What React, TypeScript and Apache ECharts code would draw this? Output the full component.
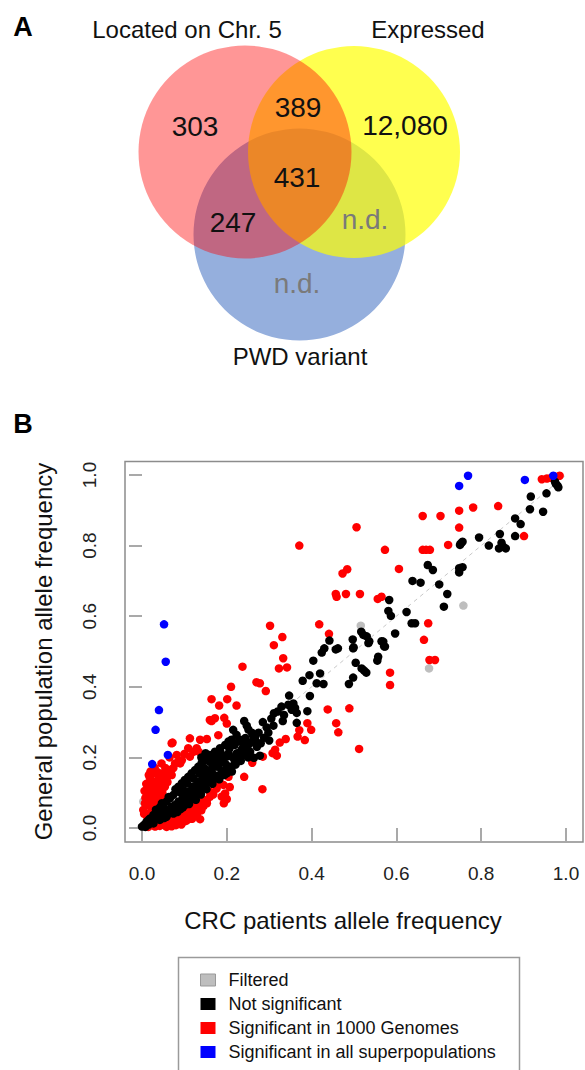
import React, { useEffect, useRef } from "react";
import * as echarts from "echarts";

// ---------- Panel A: Venn diagram ----------
const vennSetNames = ["Located on Chr. 5", "Expressed", "PWD variant"];
const vennRegionLabels = ["303", "389", "12,080", "431", "247", "n.d.", "n.d."];

// ---------- Panel B: scatter ----------
const legendNames = [
  "Filtered",
  "Not significant",
  "Significant in 1000 Genomes",
  "Significant in all superpopulations",
];
const axisTicks = [0, 0.2, 0.4, 0.6, 0.8, 1.0];
const diagonal = [[-0.04, -0.04], [1.04, 1.04]];

const filteredPoints = [
  [0.758, 0.63], [0.516, 0.573], [0.677, 0.452], [0.003, 0.075],
];

const sigAllPoints = [
  [0.769, 0.998], [0.748, 0.969], [0.903, 0.986], [0.97, 0.998],
  [0.052, 0.577], [0.056, 0.471], [0.04, 0.334], [0.032, 0.278],
  [0.061, 0.207], [0.024, 0.181],
];

const sig1000GPoints = [
  // upper region
  [0.943, 0.988], [0.955, 0.99], [0.965, 0.992], [0.975, 0.995], [0.985, 0.998],
  [0.84, 0.912], [0.781, 0.908], [0.748, 0.899], [0.704, 0.884], [0.662, 0.884],
  [0.748, 0.851], [0.506, 0.852], [0.371, 0.8], [0.901, 0.827], [0.722, 0.802],
  [0.662, 0.788], [0.67, 0.788], [0.679, 0.788], [0.573, 0.788], [0.606, 0.734],
  [0.473, 0.721], [0.484, 0.733], [0.457, 0.663], [0.459, 0.655], [0.481, 0.663],
  [0.514, 0.663], [0.556, 0.649], [0.565, 0.655], [0.675, 0.58], [0.665, 0.533],
  [0.302, 0.573], [0.331, 0.541], [0.311, 0.518], [0.418, 0.577], [0.441, 0.55],
  // middle region
  [0.333, 0.481], [0.323, 0.452], [0.342, 0.455], [0.237, 0.457], [0.27, 0.413],
  [0.278, 0.41], [0.292, 0.388], [0.21, 0.4], [0.164, 0.365], [0.201, 0.365],
  [0.182, 0.347], [0.223, 0.347], [0.172, 0.311], [0.164, 0.303], [0.16, 0.306],
  [0.194, 0.312], [0.2, 0.296], [0.072, 0.242], [0.113, 0.254], [0.153, 0.252],
  [0.137, 0.25], [0.133, 0.217], [0.585, 0.44], [0.585, 0.405], [0.678, 0.476],
  [0.691, 0.476], [0.285, 0.202], [0.308, 0.212], [0.318, 0.205], [0.314, 0.222],
  [0.325, 0.242], [0.339, 0.252], [0.367, 0.259], [0.371, 0.277], [0.384, 0.249],
  [0.39, 0.297], [0.399, 0.278], [0.438, 0.336], [0.458, 0.297], [0.463, 0.271],
  [0.489, 0.339], [0.512, 0.224], [0.26, 0.185], [0.241, 0.145], [0.284, 0.11],
  [0.204, 0.145], [0.207, 0.116], [0.196, 0.098], [0.193, 0.07], [0.16, 0.103],
  [0.188, 0.089], [0.2, 0.082], [0.192, 0.122], [0.145, 0.079], [0.153, 0.07],
  [0.137, 0.065], [0.137, 0.025], [0.176, 0.112], [0.183, 0.13],
  // upper-left cluster above diagonal
  [0.07, 0.24], [0.109, 0.226], [0.121, 0.216], [0.113, 0.202], [0.129, 0.226],
  [0.082, 0.207], [0.094, 0.192], [0.086, 0.188], [0.046, 0.183], [0.066, 0.164],
  [0.18, 0.263], [0.078, 0.183], [0.09, 0.183], [0.065, 0.2], [0.1, 0.21],
  [0.027, 0.155], [0.019, 0.141], [0.031, 0.131], [0.015, 0.122], [0.035, 0.117],
  [0.023, 0.108], [0.011, 0.098], [0.027, 0.094], [0.038, 0.103], [0.046, 0.131],
  [0.054, 0.117], [0.042, 0.089], [0.019, 0.079], [0.007, 0.07], [0.003, 0.051],
  [0.015, 0.065], [0.031, 0.075], [0.058, 0.141], [0.05, 0.155], [0.02, 0.16],
  [0.03, 0.17], [0.012, 0.11], [0.04, 0.145], [0.008, 0.085], [0.025, 0.055],
  [0.005, 0.04], [0.035, 0.06], [0.022, 0.135], [0.016, 0.15], [0.03, 0.088],
  [0.048, 0.1], [0.06, 0.13], [0.07, 0.15], [0.013, 0.03], [0.02, 0.045],
  [0.01, 0.125], [0.037, 0.158], [0.055, 0.17], [0.062, 0.152], [0.074, 0.17],
  [0.044, 0.115], [0.006, 0.105], [0.028, 0.115], [0.039, 0.078], [0.052, 0.085],
  // lower band below diagonal
  [0.015, 0.003], [0.031, 0.004], [0.042, 0.006], [0.054, 0.008], [0.066, 0.011],
  [0.078, 0.018], [0.09, 0.023], [0.101, 0.03], [0.109, 0.037], [0.117, 0.044],
  [0.129, 0.051], [0.145, 0.062], [0.153, 0.079], [0.058, 0.003], [0.025, 0.01],
  [0.04, 0.014], [0.05, 0.018], [0.062, 0.022], [0.072, 0.028], [0.085, 0.032],
  [0.095, 0.04], [0.105, 0.048], [0.112, 0.055], [0.122, 0.06], [0.135, 0.072],
  [0.07, 0.005], [0.085, 0.012], [0.098, 0.018], [0.11, 0.025], [0.12, 0.034],
  [0.13, 0.04], [0.14, 0.05], [0.16, 0.088], [0.168, 0.095], [0.08, 0.008],
  [0.093, 0.01], [0.104, 0.02], [0.118, 0.026], [0.126, 0.033],
];

const notSignificantPoints = [
  // upper region
  [0.974, 0.981], [0.98, 0.97], [0.982, 0.965], [0.976, 0.975], [0.917, 0.939],
  [0.954, 0.948], [0.915, 0.903], [0.946, 0.896], [0.88, 0.877], [0.893, 0.861],
  [0.88, 0.827], [0.844, 0.833], [0.848, 0.808], [0.842, 0.792], [0.858, 0.792],
  [0.852, 0.797], [0.818, 0.8], [0.795, 0.823], [0.752, 0.806], [0.756, 0.811],
  [0.75, 0.802], [0.674, 0.745], [0.686, 0.731], [0.748, 0.736], [0.756, 0.739],
  [0.748, 0.724], [0.638, 0.7], [0.657, 0.695], [0.701, 0.69], [0.72, 0.663],
  [0.712, 0.627], [0.583, 0.646], [0.581, 0.615], [0.587, 0.601], [0.624, 0.612],
  [0.636, 0.58], [0.644, 0.58], [0.597, 0.551], [0.517, 0.556], [0.522, 0.547],
  [0.536, 0.529], [0.53, 0.543], [0.497, 0.534], [0.498, 0.509], [0.442, 0.531],
  [0.565, 0.529], [0.571, 0.515], [0.43, 0.509], [0.462, 0.509],
  // middle region
  [0.457, 0.506], [0.499, 0.512], [0.534, 0.524], [0.569, 0.528], [0.573, 0.514],
  [0.424, 0.497], [0.404, 0.474], [0.557, 0.485], [0.555, 0.474], [0.504, 0.468],
  [0.518, 0.452], [0.524, 0.446], [0.529, 0.44], [0.42, 0.438], [0.412, 0.41],
  [0.428, 0.408], [0.379, 0.417], [0.395, 0.433], [0.498, 0.426], [0.488, 0.408],
  [0.347, 0.375], [0.357, 0.353], [0.396, 0.374], [0.329, 0.344], [0.345, 0.349],
  [0.353, 0.335], [0.365, 0.326], [0.361, 0.34], [0.39, 0.331], [0.311, 0.325],
  [0.332, 0.303], [0.365, 0.298], [0.294, 0.285], [0.288, 0.256], [0.268, 0.246],
  [0.264, 0.199], [0.278, 0.205], [0.241, 0.303], [0.247, 0.29], [0.251, 0.279],
  [0.259, 0.27], [0.215, 0.278], [0.223, 0.264], [0.231, 0.25], [0.239, 0.24],
  [0.211, 0.25], [0.212, 0.174], [0.219, 0.188], [0.231, 0.197], [0.223, 0.211],
  [0.235, 0.221], [0.247, 0.23], [0.243, 0.207], [0.255, 0.216], [0.259, 0.244],
  [0.267, 0.258], [0.271, 0.23], [0.212, 0.16], [0.2, 0.155], [0.188, 0.16],
  [0.18, 0.174], [0.168, 0.183], [0.16, 0.164], [0.145, 0.155], [0.14, 0.2],
  [0.15, 0.212], [0.157, 0.19], [0.165, 0.2], [0.175, 0.205], [0.185, 0.215],
  [0.097, 0.108], [0.113, 0.084], [0.129, 0.093], [0.145, 0.117],
  [0.275, 0.27], [0.28, 0.24], [0.285, 0.3], [0.298, 0.27], [0.305, 0.31],
  [0.31, 0.29], [0.32, 0.33], [0.335, 0.32], [0.3, 0.248],
  // dense band near origin
  [0.0, 0.004], [0.011, 0.018], [0.019, 0.027], [0.027, 0.037], [0.035, 0.046],
  [0.042, 0.058], [0.05, 0.065], [0.058, 0.075], [0.066, 0.084], [0.074, 0.094],
  [0.082, 0.103], [0.086, 0.117], [0.094, 0.127], [0.101, 0.136], [0.109, 0.145],
  [0.117, 0.155], [0.125, 0.164], [0.133, 0.174], [0.141, 0.185], [0.149, 0.194],
  [0.16, 0.207], [0.172, 0.216], [0.184, 0.226], [0.196, 0.235], [0.204, 0.245],
  [0.027, 0.013], [0.042, 0.023], [0.058, 0.032], [0.074, 0.041], [0.09, 0.053],
  [0.101, 0.065], [0.113, 0.079], [0.125, 0.094], [0.137, 0.108], [0.149, 0.122],
  [0.16, 0.131], [0.172, 0.141], [0.184, 0.15], [0.196, 0.164],
  [0.038, 0.032], [0.054, 0.046], [0.07, 0.06], [0.086, 0.075], [0.098, 0.089],
  [0.109, 0.103], [0.121, 0.117], [0.133, 0.131], [0.145, 0.145], [0.157, 0.16],
  [0.168, 0.174], [0.18, 0.183], [0.192, 0.197], [0.204, 0.211],
  [0.058, 0.051], [0.078, 0.065], [0.094, 0.079], [0.105, 0.094], [0.117, 0.108],
  [0.129, 0.122], [0.141, 0.136], [0.153, 0.15], [0.164, 0.164], [0.176, 0.174],
  [0.188, 0.188], [0.2, 0.202], [0.006, 0.01], [0.015, 0.022],
  [0.008, 0.003], [0.016, 0.01], [0.024, 0.02], [0.031, 0.025], [0.033, 0.052],
  [0.045, 0.036], [0.047, 0.07], [0.052, 0.028], [0.061, 0.04], [0.063, 0.088],
  [0.068, 0.05], [0.076, 0.056], [0.079, 0.11], [0.083, 0.045], [0.091, 0.068],
  [0.093, 0.098], [0.096, 0.058], [0.104, 0.084], [0.107, 0.126], [0.111, 0.068],
  [0.119, 0.09], [0.122, 0.14], [0.127, 0.08], [0.131, 0.104], [0.135, 0.155],
  [0.139, 0.095], [0.143, 0.128], [0.147, 0.17], [0.152, 0.11], [0.155, 0.138],
  [0.162, 0.186], [0.166, 0.125], [0.17, 0.15], [0.178, 0.195], [0.182, 0.138],
  [0.19, 0.205], [0.194, 0.15], [0.198, 0.18], [0.206, 0.225], [0.208, 0.17],
  [0.214, 0.2], [0.218, 0.235], [0.221, 0.18], [0.226, 0.212], [0.228, 0.245],
  [0.233, 0.19], [0.237, 0.225], [0.244, 0.255], [0.25, 0.2], [0.253, 0.238],
  [0.262, 0.262],
];

const FONT = "'Liberation Sans', Arial, Helvetica, sans-serif";

function vennGraphics(): any[] {
  const circle = (cx: number, cy: number, r: number, fill: string, z: number) => ({
    type: "circle",
    shape: { cx, cy, r },
    style: { fill },
    z,
    silent: true,
  });
  const txt = (s: string, x: number, y: number, size: number, fill = "#111", weight = "normal") => ({
    type: "text",
    x,
    y,
    z: 10,
    silent: true,
    style: {
      text: s,
      align: "center",
      verticalAlign: "middle",
      fontSize: size,
      fontWeight: weight,
      fontFamily: FONT,
      fill,
    },
  });
  return [
    // circles (drawn blue, then yellow, then red)
    circle(299.5, 234.5, 106, "rgb(149,175,221)", 1),
    circle(354, 152, 106, "rgba(255,255,0,0.69)", 2),
    circle(245, 152, 106.5, "rgba(255,0,0,0.41)", 3),
    txt("A", 23, 27, 27, "#000", "bold"),
    txt(vennSetNames[0], 187, 29, 24),
    txt(vennSetNames[1], 428, 29, 24),
    txt(vennSetNames[2], 300, 356, 24),
    txt(vennRegionLabels[0], 195, 126, 28),
    txt(vennRegionLabels[1], 298, 107, 28),
    txt(vennRegionLabels[2], 405, 125, 28),
    txt(vennRegionLabels[3], 297, 177, 28),
    txt(vennRegionLabels[4], 233, 222, 28),
    txt(vennRegionLabels[5], 365, 219, 28, "#7a7a7a"),
    txt(vennRegionLabels[6], 297, 283, 28, "#7a7a7a"),
    txt("B", 23, 424, 27, "#000", "bold"),
    // plot box
    {
      type: "rect",
      shape: { x: 125, y: 461.5, width: 458, height: 380.5 },
      style: { fill: "none", stroke: "#8c8c8c", lineWidth: 1.5 },
      z: 5,
      silent: true,
    },
    // legend box
    {
      type: "rect",
      shape: { x: 178.5, y: 957.5, width: 341, height: 140 },
      style: { fill: "none", stroke: "#9a9a9a", lineWidth: 1.5 },
      z: 5,
      silent: true,
    },
  ];
}

export default function App() {
  const ref = useRef<HTMLDivElement>(null);
  useEffect(() => {
    if (!ref.current) return;
    const chart = echarts.init(ref.current, null, { renderer: "svg" });
    const scatter = (name: string, data: number[][], color: string) => ({
      name,
      type: "scatter",
      data,
      symbol: "circle",
      symbolSize: 8.5,
      clip: false,
      itemStyle: { color, opacity: 1 },
      emphasis: { disabled: true },
    });
    const option: any = {
      animation: false,
      textStyle: { fontFamily: FONT },
      grid: { left: 142, top: 475, width: 424, height: 353, containLabel: false },
      xAxis: {
        type: "value",
        min: axisTicks[0],
        max: axisTicks[axisTicks.length - 1],
        interval: 0.2,
        offset: 14,
        axisLine: { show: false },
        axisTick: { show: true, length: 13, lineStyle: { color: "#8c8c8c", width: 1.5 } },
        splitLine: { show: false },
        axisLabel: {
          fontSize: 19,
          color: "#222",
          margin: 22,
          formatter: (v: number) => v.toFixed(1),
        },
        name: "CRC patients allele frequency",
        nameLocation: "middle",
        nameGap: 66,
        nameTextStyle: { fontSize: 24, color: "#111", padding: [0, 22, 0, 0] },
      },
      yAxis: {
        type: "value",
        min: axisTicks[0],
        max: axisTicks[axisTicks.length - 1],
        interval: 0.2,
        offset: 17,
        axisLine: { show: false },
        axisTick: { show: true, length: 13, lineStyle: { color: "#8c8c8c", width: 1.5 } },
        splitLine: { show: false },
        axisLabel: {
          fontSize: 19,
          color: "#222",
          margin: 26,
          rotate: 90,
          formatter: (v: number) => v.toFixed(1),
        },
        name: "General population allele frequency",
        nameLocation: "middle",
        nameGap: 70,
        nameTextStyle: { fontSize: 24, color: "#111" },
      },
      legend: {
        orient: "vertical",
        left: 195,
        top: 966,
        itemWidth: 15,
        itemHeight: 12,
        itemGap: 6,
        icon: "rect",
        selectedMode: false,
        textStyle: { fontSize: 18, color: "#111", lineHeight: 18, padding: [0, 0, 0, 8] },
        data: [
          { name: legendNames[0], itemStyle: { color: "#bebebe", borderColor: "#999", borderWidth: 1 } },
          { name: legendNames[1], itemStyle: { color: "#000" } },
          { name: legendNames[2], itemStyle: { color: "#ff0000" } },
          { name: legendNames[3], itemStyle: { color: "#0000ff" } },
        ],
      },
      graphic: vennGraphics(),
      series: [
        {
          name: "diagonal",
          type: "line",
          data: diagonal,
          symbol: "none",
          clip: false,
          silent: true,
          lineStyle: { color: "#c8c8c8", width: 1, type: [4, 4] },
          z: 1,
        },
        scatter(legendNames[0], filteredPoints, "#bebebe"),
        scatter(legendNames[2], sig1000GPoints, "#ff0000"),
        scatter(legendNames[1], notSignificantPoints, "#000000"),
        scatter(legendNames[3], sigAllPoints, "#0000ff"),
      ],
    };
    chart.setOption(option);
    return () => chart.dispose();
  }, []);
  return (
    <div
      ref={ref}
      style={{ position: "fixed", left: 0, top: 0, width: 585, height: 1070, background: "#fff" }}
    />
  );
}
